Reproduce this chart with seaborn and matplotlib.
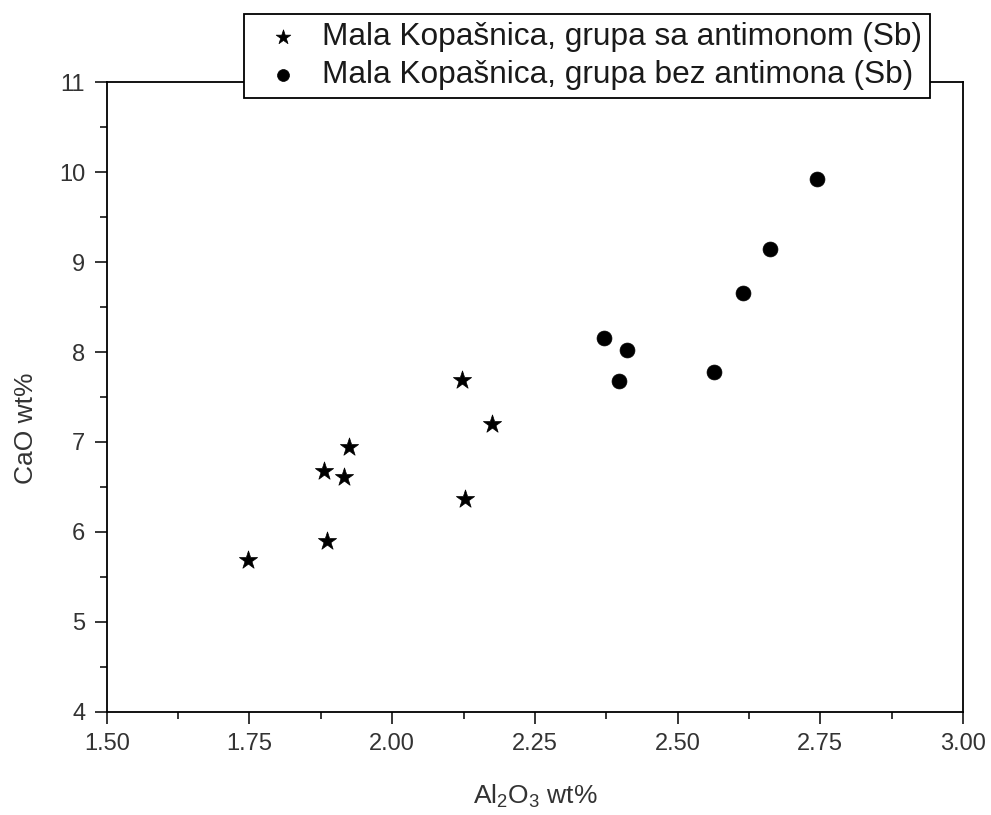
import pandas as pd
import matplotlib.pyplot as plt
import seaborn as sns
from matplotlib.ticker import MultipleLocator

# -----------------------------
# Data
# -----------------------------
sb_al2o3 = [1.747, 1.886, 1.881, 1.916, 1.924, 2.122, 2.127, 2.175]
sb_cao = [5.69, 5.90, 6.68, 6.61, 6.94, 7.69, 6.37, 7.20]

nosb_al2o3 = [2.371, 2.411, 2.398, 2.564, 2.614, 2.661, 2.744]
nosb_cao = [8.16, 8.02, 7.68, 7.78, 8.66, 9.15, 9.92]

labels = ['Mala Kopašnica, grupa sa antimonom (Sb)',
          'Mala Kopašnica, grupa bez antimona (Sb)']

df_sb = pd.DataFrame({'Al2O3': sb_al2o3, 'CaO': sb_cao})
df_nosb = pd.DataFrame({'Al2O3': nosb_al2o3, 'CaO': nosb_cao})

sns.set_style('ticks')
plt.rcParams['font.family'] = ['Liberation Sans', 'DejaVu Sans']
plt.rcParams['mathtext.fontset'] = 'custom'
plt.rcParams['mathtext.rm'] = 'Liberation Sans'

fig = plt.figure(figsize=(9.91, 8.15), dpi=100)
ax = fig.add_axes([0.1077, 0.1267, 0.8641, 0.7723])

sns.scatterplot(data=df_sb, x='Al2O3', y='CaO', marker='*', s=190,
                color='black', edgecolor='black', linewidth=0.5,
                label=labels[0], ax=ax, zorder=3)
sns.scatterplot(data=df_nosb, x='Al2O3', y='CaO', marker='o', s=115,
                color='black', edgecolor='black', linewidth=0.5,
                label=labels[1], ax=ax, zorder=3)

ax.set_xlim(1.5, 3.0)
ax.set_ylim(4, 11)
ax.xaxis.set_major_locator(MultipleLocator(0.25))
ax.xaxis.set_minor_locator(MultipleLocator(0.125))
ax.yaxis.set_major_locator(MultipleLocator(1))
ax.yaxis.set_minor_locator(MultipleLocator(0.5))
ax.set_xticklabels([f'{v:.2f}' for v in ax.get_xticks()])

txt = '#333333'
ax.tick_params(which='major', direction='out', length=8.5, width=1.3,
               labelsize=17, labelcolor=txt, pad=7)
ax.tick_params(which='minor', direction='out', length=5, width=1.3)
for sp in ax.spines.values():
    sp.set_linewidth(1.3)
    sp.set_color('black')

ax.set_xlabel('Al$_\\mathrm{2}$O$_\\mathrm{3}$ wt%', fontsize=19, color=txt)
ax.set_ylabel('CaO wt%', fontsize=19, color=txt)
ax.xaxis.set_label_coords(0.5, -0.112)
ax.yaxis.set_label_coords(-0.080, 0.45)

leg = ax.legend(loc='upper left', bbox_to_anchor=(244 / 991, 1 - 14 / 815),
                bbox_transform=fig.transFigure, fontsize=22.8, frameon=True,
                fancybox=False, edgecolor='black', framealpha=1,
                handletextpad=0.26, borderpad=0.25, labelspacing=0.26,
                handlelength=1.95, borderaxespad=0, markerscale=0.8)
leg.get_frame().set_linewidth(1.3)
leg.set_zorder(5)
for t in leg.get_texts():
    t.set_color('#1a1a1a')

fig.savefig('out.png', dpi=100)
plt.close(fig)
